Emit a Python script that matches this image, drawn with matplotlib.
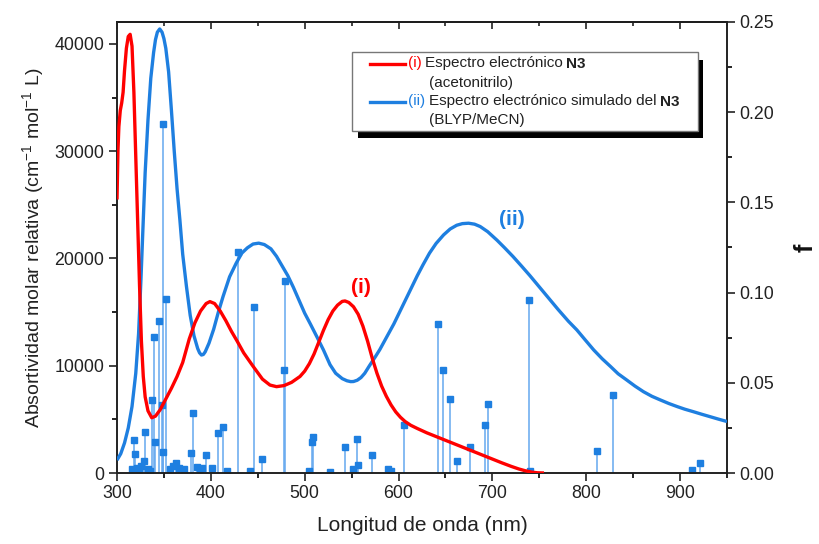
import matplotlib
matplotlib.use("Agg")
import matplotlib.pyplot as plt
from matplotlib.patches import Rectangle
from matplotlib.ticker import MultipleLocator, FormatStrFormatter, NullFormatter

plt.rcParams['font.family'] = ['Liberation Sans', 'DejaVu Sans']
plt.rcParams['mathtext.fontset'] = 'custom'
plt.rcParams['mathtext.rm'] = 'Liberation Sans'
plt.rcParams['mathtext.it'] = 'Liberation Sans:italic'
plt.rcParams['mathtext.bf'] = 'Liberation Sans:bold'

# Experimental spectrum (i)
red_nm = [300, 301, 302, 303.5, 305, 306.5, 308, 310, 312, 314, 316, 318, 320, 322, 324, 326, 328, 330,
          333, 337, 341, 346, 352, 358, 364, 370, 377, 383, 389, 395, 399, 404, 410, 416, 422, 428, 435,
          445, 455, 463, 470, 478, 486, 495, 500, 505, 510, 515, 520, 525, 530, 535, 540, 543, 547, 552,
          557, 562, 567, 572, 577, 582, 587, 592, 597, 602, 607, 613, 620, 630, 640, 650, 660, 670, 680,
          690, 700, 710, 720, 728, 735, 742, 748, 755]
red_eps = [25500, 30000, 32300, 33800, 34500, 35500, 37500, 39600, 40700, 40900, 39800, 35500, 29500,
           23500, 17500, 12300, 9000, 7100, 5800, 5150, 5300, 5900, 6900, 7900, 9000, 10300, 12500, 14000,
           15100, 15800, 15980, 15800, 15100, 14200, 13200, 12300, 11200, 9950, 8750, 8200, 8050, 8150,
           8450, 9000, 9500, 10200, 11100, 12200, 13300, 14300, 15100, 15650, 16000, 16040, 15900, 15500,
           14800, 13700, 12300, 10700, 9300, 8100, 7150, 6350, 5700, 5200, 4800, 4450, 4150, 3750, 3400,
           3050, 2700, 2350, 2000, 1650, 1300, 950, 620, 380, 210, 80, 20, 0]

# Simulated spectrum (ii)
blue_nm = [300, 304, 308, 312, 316, 320, 323, 325.5, 327.5, 330, 333, 336, 339, 341, 343, 345.5, 348, 350,
           352, 355, 358, 361, 364, 367, 370, 374, 378, 382, 386, 388, 390, 392, 394, 398, 403, 408, 413,
           420, 427, 433, 439, 445, 451, 457, 464, 470, 476, 482, 488, 494, 500, 506, 513, 520, 527, 533,
           540, 545, 549, 552, 556, 560, 564, 569, 575, 580, 585, 590, 595, 600, 605, 610, 615, 620, 626,
           633, 640, 648, 655, 662, 668, 674.6, 681, 687, 695, 705, 713, 722, 731, 740, 750, 760, 770, 781,
           790, 799, 808, 817, 826, 834, 843, 852, 861, 870, 879, 888, 897, 905, 914, 923, 932, 941, 950]
blue_eps = [1200, 1800, 2800, 4200, 6200, 9300, 13000, 18000, 22500, 28000, 32900, 36800, 39200, 40400,
            41100, 41400, 41100, 40500, 39600, 37400, 33800, 30000, 26500, 23600, 20400, 17400, 14700, 12800,
            11600, 11200, 11000, 11050, 11300, 12100, 13400, 15000, 16450, 18300, 19560, 20500, 21000, 21350,
            21430, 21300, 20900, 20200, 19300, 18400, 17300, 16100, 14900, 13900, 12700, 11470, 10100, 9300,
            8800, 8600, 8520, 8530, 8650, 8900, 9300, 10000, 10800, 11500, 12300, 13100, 13900, 14800, 15700,
            16600, 17500, 18400, 19400, 20500, 21400, 22200, 22750, 23100, 23250, 23290, 23200, 22980, 22500,
            21700, 21000, 20180, 19300, 18400, 17350, 16300, 15250, 14150, 13340, 12400, 11470, 10650, 9920,
            9250, 8680, 8100, 7580, 7150, 6810, 6480, 6190, 5950, 5720, 5480, 5250, 5020, 4800]

# Oscillator strengths (sticks)
stick_nm = [316, 318, 319, 321, 323, 326, 328.7, 330, 333, 335, 337.6, 339, 340, 345, 348.2, 348.5, 349.3,
            351.8, 357, 360, 362.4, 366, 371, 379, 380.5, 384.8, 388, 391, 394.4, 400.7, 407.4, 412.8, 416.7,
            428.6, 441.5, 445.5, 455, 478, 479.5, 505, 507.8, 508.8, 526.6, 542.5, 551.4, 555.6, 557, 571.6,
            589, 592, 605.6, 642.2, 647.2, 654.6, 662, 676.6, 691.8, 695, 739.4, 739.7, 811, 829, 913, 921.3]
stick_f = [0.002, 0.0183, 0.0104, 0.003, 0.002, 0.004, 0.0068, 0.0226, 0.002, 0.001, 0.0405, 0.0752, 0.017,
           0.0841, 0.0377, 0.0118, 0.1933, 0.0963, 0.002, 0.004, 0.0054, 0.003, 0.002, 0.011, 0.0334, 0.0035,
           0.002, 0.003, 0.0098, 0.003, 0.022, 0.0257, 0.001, 0.1225, 0.001, 0.0922, 0.008, 0.0571, 0.1066,
           0.001, 0.0172, 0.0201, 0.0005, 0.0142, 0.002, 0.0187, 0.0044, 0.0098, 0.002, 0.001, 0.0266,
           0.0828, 0.0573, 0.0408, 0.0066, 0.0142, 0.0266, 0.0382, 0.0959, 0.001, 0.012, 0.0432, 0.0017,
           0.0054]

RED = '#ff0000'
BLUE = '#1e7fe0'
STICK = '#64a8ef'
INK = '#222222'

W, H = 820, 544
fig = plt.figure(figsize=(W / 100, H / 100), dpi=100)
ax = fig.add_axes([117 / W, 1 - 473 / H, (727 - 117) / W, (473 - 22) / H])
ax2 = ax.twinx()

# sticks on the right axis
ax2.vlines(stick_nm, 0, stick_f, color=STICK, lw=1.1, zorder=1)
ax2.plot(stick_nm, stick_f, ls='none', marker='s', ms=4.2, color=BLUE, mec=BLUE, zorder=2)

ax.set_zorder(ax2.get_zorder() + 1)
ax.patch.set_visible(False)
ax.plot(blue_nm, blue_eps, color=BLUE, lw=2.4, zorder=3, solid_capstyle='butt', solid_joinstyle='round')
ax.plot(red_nm, red_eps, color=RED, lw=2.4, zorder=4, solid_capstyle='butt', solid_joinstyle='round')

ax.set_xlim(300, 950)
ax.set_ylim(0, 42050)
ax2.set_ylim(0, 0.25)

ax.xaxis.set_major_locator(MultipleLocator(100))
ax.xaxis.set_minor_locator(MultipleLocator(50))
ax.yaxis.set_major_locator(MultipleLocator(10000))
ax.yaxis.set_minor_locator(MultipleLocator(5000))
ax2.yaxis.set_major_locator(MultipleLocator(0.05))
ax2.yaxis.set_minor_locator(MultipleLocator(0.025))
ax2.yaxis.set_major_formatter(FormatStrFormatter('%.2f'))

for a in (ax, ax2):
    for s in a.spines.values():
        s.set_linewidth(1.2)
        s.set_color(INK)
ax.tick_params(axis='both', which='major', direction='out', length=6, width=1.2, labelsize=12.8,
               colors=INK, pad=3)
ax.tick_params(axis='both', which='minor', direction='out', length=3.5, width=1.2)
ax2.tick_params(axis='y', which='major', direction='out', length=6, width=1.2, labelsize=12.8,
                colors=INK, pad=3)
ax2.tick_params(axis='y', which='minor', direction='out', length=3.5, width=1.2)

# inward ticks on the top spine
top = ax.secondary_xaxis('top')
top.xaxis.set_major_locator(MultipleLocator(100))
top.xaxis.set_minor_locator(MultipleLocator(50))
top.xaxis.set_major_formatter(NullFormatter())
top.tick_params(which='major', direction='in', length=5, width=1.2, colors=INK)
top.tick_params(which='minor', direction='in', length=3, width=1.2, colors=INK)
top.spines['top'].set_linewidth(1.2)

ax.set_xlabel('Longitud de onda (nm)', fontsize=15, color=INK, labelpad=10)
ax.set_ylabel('Absortividad molar relativa (cm$^{-1}$ mol$^{-1}$ L)', fontsize=14, color=INK, labelpad=6)
ax2.set_ylabel('f', fontsize=18, fontweight='bold', color='#111111', labelpad=14)

ax.text(560, 17340, '(i)', color=RED, fontsize=15, fontweight='bold', ha='center', va='center')
ax.text(721, 23590, '(ii)', color=BLUE, fontsize=15, fontweight='bold', ha='center', va='center')

# legend box drawn in figure pixel coordinates
def fx(x):
    return x / W

def fy(y):
    return 1 - y / H

fig.patches.append(Rectangle((fx(358), fy(138)), fx(703) - fx(358), fy(60) - fy(138),
                             transform=fig.transFigure, facecolor='black', edgecolor='none', zorder=5))
fig.patches.append(Rectangle((fx(352), fy(131)), fx(698) - fx(352), fy(52) - fy(131),
                             transform=fig.transFigure, facecolor='white', edgecolor='#777777', lw=1.0, zorder=6))
fig.add_artist(plt.Line2D([fx(370), fx(405)], [fy(63.5), fy(63.5)], color=RED, lw=2.4, zorder=7))
fig.add_artist(plt.Line2D([fx(370), fx(405)], [fy(101.5), fy(101.5)], color=BLUE, lw=2.4, zorder=7))

renderer = fig.canvas.get_renderer()
LFS = 11.0
GAP = 3.5

def chain(x0, y, pieces):
    x = x0
    for txt, col, wt in pieces:
        t = fig.text(fx(x), fy(y), txt, color=col, fontweight=wt, fontsize=LFS, ha='left', va='center',
                     zorder=8)
        bb = t.get_window_extent(renderer=renderer)
        x = x + bb.width + GAP

chain(408, 63.5, [('(i)', RED, 'normal'), ('Espectro electrónico', INK, 'normal'), ('N3', INK, 'bold')])
chain(429, 82.5, [('(acetonitrilo)', INK, 'normal')])
chain(408, 101.5, [('(ii)', BLUE, 'normal'), ('Espectro electrónico simulado del', INK, 'normal'),
                   ('N3', INK, 'bold')])
chain(429, 120.5, [('(BLYP/MeCN)', INK, 'normal')])

fig.savefig('out.png', dpi=100)
